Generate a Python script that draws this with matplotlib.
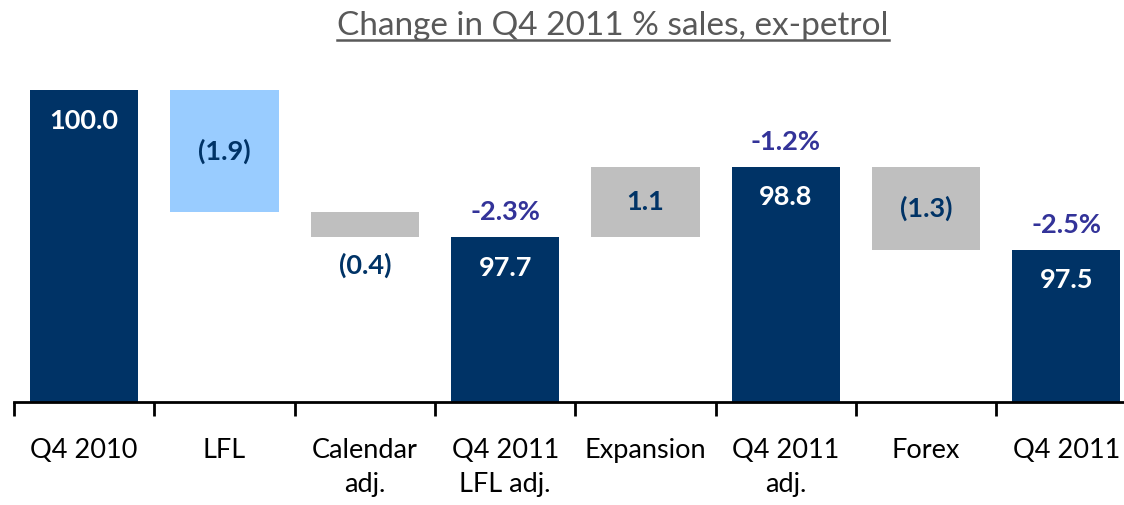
import matplotlib.pyplot as plt
import numpy as np

plt.rcParams['font.family'] = ['Lato', 'DejaVu Sans']

categories = ['Q4 2010', 'LFL', 'Calendar\nadj.', 'Q4 2011\nLFL adj.', 'Expansion',
              'Q4 2011\nadj.', 'Forex', 'Q4 2011']
# kind: 'total' = full bar, 'step' = floating change
kinds = ['total', 'step', 'step', 'total', 'step', 'total', 'step', 'total']
start_value = 100.0
changes = [None, -1.9, -0.4, None, 1.1, None, -1.3, None]
value_labels = ['100.0', '(1.9)', '(0.4)', '97.7', '1.1', '98.8', '(1.3)', '97.5']
pct_labels = [None, None, None, '-2.3%', None, '-1.2%', None, '-2.5%']

navy = '#003366'
light_blue = '#99CCFF'
grey = '#BFBFBF'
purple = '#333399'
step_colors = {1: light_blue, 2: grey, 4: grey, 6: grey}

ymin = 95.12
fig = plt.figure(figsize=(11.24, 5.05), dpi=100)
ax = fig.add_axes([14 / 1124, 103 / 505, 1 - 14 / 1124, 342 / 505])

level = start_value
x = np.arange(len(categories))
for i, kind in enumerate(kinds):
    if kind == 'total':
        top = level
        ax.bar(i, top - ymin, bottom=ymin, width=0.77, color=navy, zorder=2)
        ax.annotate(value_labels[i], (i, top), xytext=(0, -22), textcoords='offset points',
                    ha='center', va='center', color='white', fontsize=19.5, fontweight='bold')
        if pct_labels[i]:
            ax.annotate(pct_labels[i], (i, top), xytext=(0, 18), textcoords='offset points',
                        ha='center', va='center', color=purple, fontsize=19.5, fontweight='bold')
    else:
        new = level + changes[i]
        lo, hi = min(level, new), max(level, new)
        ax.bar(i, hi - lo, bottom=lo, width=0.77, color=step_colors[i], zorder=2)
        if hi - lo > 0.6:
            ax.text(i, (lo + hi) / 2, value_labels[i], ha='center', va='center',
                    color=navy, fontsize=19.5, fontweight='bold')
        else:
            ax.annotate(value_labels[i], (i, lo), xytext=(0, -20), textcoords='offset points',
                        ha='center', va='center', color=navy, fontsize=19.5, fontweight='bold')
        level = new

ax.set_ylim(ymin, ymin + 342 / 63.9)
ax.set_xlim(-0.5, 7.41)
ax.set_xticks(x)
ax.set_xticklabels(categories, fontsize=19.5, linespacing=1.45)
ax.set_xticks(np.arange(-0.5, 7.5, 1), minor=True)
ax.tick_params(axis='x', which='major', length=0, pad=26)
ax.tick_params(axis='x', which='minor', length=10, width=2, direction='out')
ax.set_yticks([])
for side in ['top', 'right', 'left']:
    ax.spines[side].set_visible(False)
ax.spines['bottom'].set_linewidth(2)

title = fig.text(613 / 1124, 1 - 26 / 505, 'Change in Q4 2011 % sales, ex-petrol',
                 ha='center', va='center', fontsize=24, color='#595959')
fig.canvas.draw()
bb = title.get_window_extent().transformed(fig.transFigure.inverted())
fig.add_artist(plt.Line2D([bb.x0, bb.x1], [bb.y0 + 0.002, bb.y0 + 0.002],
                          transform=fig.transFigure, color='#595959', linewidth=1.8))

fig.savefig('out.png', dpi=100)
